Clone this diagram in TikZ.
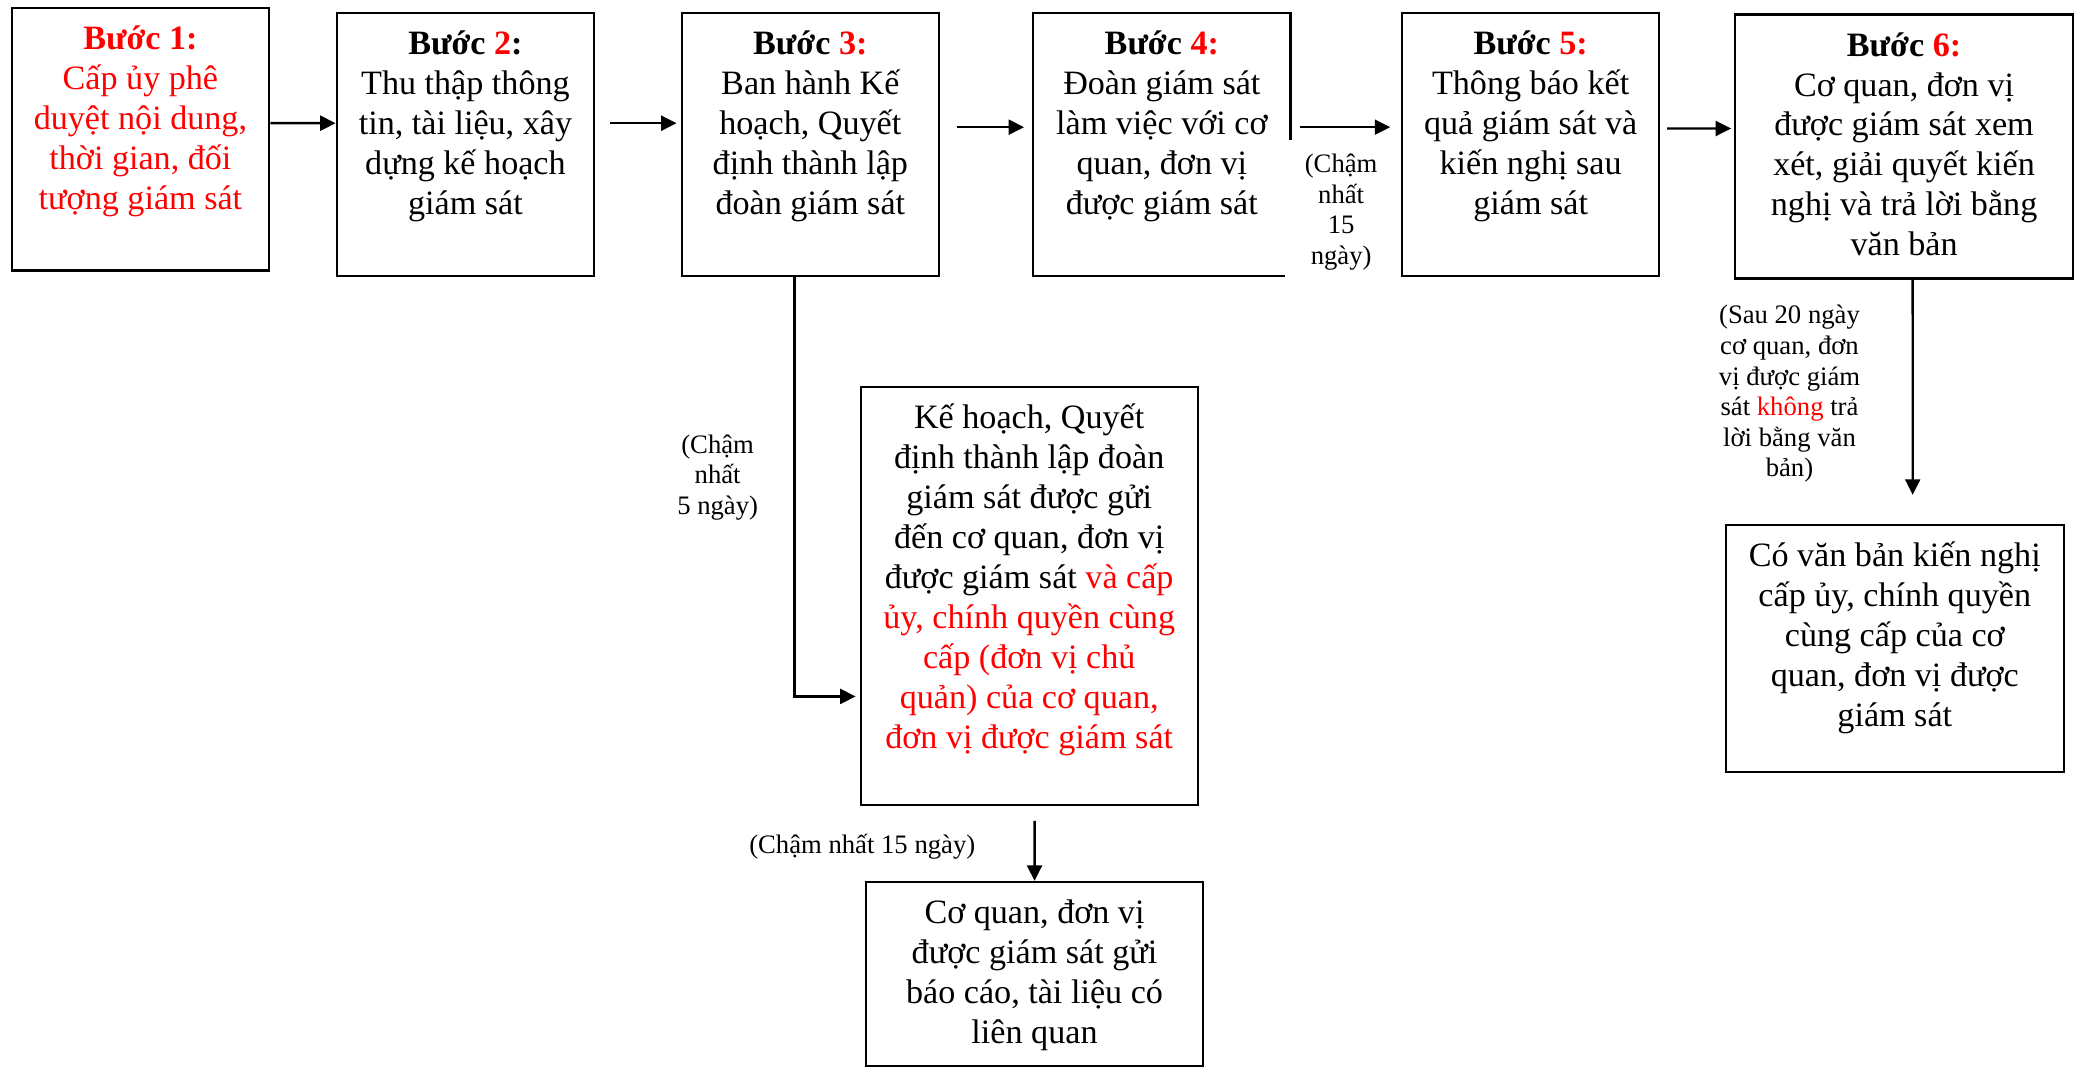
\documentclass[tikz,border=0pt]{standalone}
\usepackage{fontspec}
\setmainfont{Liberation Serif}
\usetikzlibrary{arrows.meta,positioning}

\tikzset{
  stepbox/.style 2 args={draw, line width=1.2pt, inner sep=0pt, anchor=north west,
    font=\fontsize{18.3}{21.4}\selectfont,
    execute at begin node={\begin{minipage}[c][#2][t]{#1}\centering\vspace{0.26cm}\strut},
    execute at end node={\end{minipage}}},
  note/.style={align=center, inner sep=0pt, font=\fontsize{14.3}{16.4}\selectfont},
  arr/.style={-{Triangle[length=0.29cm,width=0.28cm]}, line width=1.3pt},
}

\begin{document}
\begin{tikzpicture}[x=0.025cm, y=-0.025cm]
   \useasboundingbox (0,0) rectangle (1568,804);
   % the six steps
   \begin{scope}
    \node (b1) [stepbox={4.85cm}{4.95cm}] at (8,5) {\color{red}\textbf{Bước 1:}\\Cấp ủy phê\\duyệt nội dung,\\thời gian, đối\\tượng giám sát};
    \node (b2) [stepbox={4.85cm}{4.95cm}] at (253,9) {\textbf{Bước \textcolor{red}{2}:}\\Thu thập thông\\tin, tài liệu, xây\\dựng kế hoạch\\giám sát};
    \node (b3) [stepbox={4.85cm}{4.95cm}] at (513,9) {\textbf{Bước \textcolor{red}{3:}}\\Ban hành Kế\\hoạch, Quyết\\định thành lập\\đoàn giám sát};
    \node (b4) [stepbox={4.85cm}{4.95cm}] at (778,9) {\textbf{Bước \textcolor{red}{4:}}\\Đoàn giám sát\\làm việc với cơ\\quan, đơn vị\\được giám sát};
    \node (b5) [stepbox={4.85cm}{4.95cm}] at (1056,9) {\textbf{Bước \textcolor{red}{5:}}\\Thông báo kết\\quả giám sát và\\kiến nghị sau\\giám sát};
    \node (b6) [stepbox={6.375cm}{4.975cm}] at (1307,10) {\textbf{Bước \textcolor{red}{6:}}\\Cơ quan, đơn vị\\được giám sát xem\\xét, giải quyết kiến\\nghị và trả lời bằng\\văn bản};
   \end{scope}
   % follow-up boxes
   \begin{scope}
    \node (b7) [stepbox={6.35cm}{7.875cm}] at (648,291) {Kế hoạch, Quyết\\định thành lập đoàn\\giám sát được gửi\\đến cơ quan, đơn vị\\được giám sát \textcolor{red}{và cấp}\\\textcolor{red}{ủy, chính quyền cùng\\cấp (đơn vị chủ\\quản) của cơ quan,\\đơn vị được giám sát}};
    \node (b8) [stepbox={6.35cm}{3.475cm}] at (652,664) {Cơ quan, đơn vị\\được giám sát gửi\\báo cáo, tài liệu có\\liên quan};
    \node (b9) [stepbox={6.375cm}{4.65cm}] at (1300,395) {Có văn bản kiến nghị\\cấp ủy, chính quyền\\cùng cấp của cơ\\quan, đơn vị được\\giám sát};
   \end{scope}
   % arrows
   \begin{scope}[arr]
    \draw ([yshift=0.3cm]b1.east) -- ([yshift=0.4cm]b2.west);
    \draw ([xshift=0.275cm,yshift=0.4cm]b2.east) -- ([xshift=-0.075cm,yshift=0.4cm]b3.west);
    \draw ([xshift=0.325cm,yshift=0.325cm]b3.east) -- ([xshift=-0.15cm,yshift=0.325cm]b4.west);
    \draw ([xshift=0.15cm,yshift=0.325cm]b4.east) -- ([xshift=-0.2cm,yshift=0.325cm]b5.west);
    \draw ([xshift=0.125cm,yshift=0.3cm]b5.east) -- ([xshift=-0.05cm,yshift=0.3375cm]b6.west);
    \draw ([xshift=-0.3cm]b3.south) |- ([xshift=-0.075cm,yshift=-1.89cm]b7.west);
    \draw ([xshift=0.1cm,yshift=-0.275cm]b7.south) -- (b8.north);
    \draw ([xshift=0.1625cm]b6.south) -- ([xshift=0.3375cm,yshift=0.55cm]b9.north);
   \end{scope}
   % time notes
   \node (l45) [note, fill=white, minimum width=2.1cm, inner ysep=0.27cm, anchor=north] at (1011,105) {(Chậm\\nhất\\15\\ngày)};
   \node (l37) [note] at (541,360) {(Chậm\\nhất\\5 ngày)};
   \node (l78) [note] at (650,638) {(Chậm nhất 15 ngày)};
   \node (l69) [note] at (1349,297) {(Sau 20 ngày\\cơ quan, đơn\\vị được giám\\sát \textcolor{red}{không} trả\\lời bằng văn\\bản)};
\end{tikzpicture}
\end{document}
